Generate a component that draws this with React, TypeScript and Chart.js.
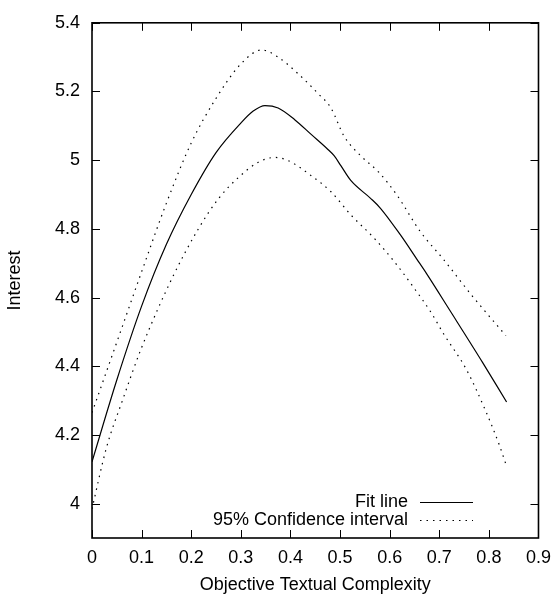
import React, { useEffect, useRef } from "react";
import { Chart, registerables } from "chart.js";
Chart.register(...registerables);

// Fit line
const fitX = [0, 0.05, 0.1, 0.15, 0.2, 0.25, 0.3, 0.325, 0.3487, 0.3752, 0.4086, 0.4418, 0.475, 0.488, 0.5016, 0.5216, 0.5615, 0.5815, 0.6214, 0.6547, 0.6747, 0.7212, 0.7878, 0.8357];
const fitY = [4.122, 4.36, 4.575, 4.755, 4.9, 5.022, 5.108, 5.143, 5.159, 5.152, 5.118, 5.075, 5.032, 5.013, 4.984, 4.941, 4.889, 4.86, 4.783, 4.712, 4.669, 4.563, 4.41, 4.296];

// Upper 95% confidence bound
const upX = [0, 0.05, 0.1, 0.15, 0.2, 0.25, 0.3, 0.342, 0.3752, 0.4152, 0.455, 0.4817, 0.508, 0.5415, 0.578, 0.6148, 0.6613, 0.708, 0.768, 0.8343];
const upY = [4.265, 4.47, 4.675, 4.875, 5.05, 5.18, 5.28, 5.321, 5.3, 5.252, 5.195, 5.152, 5.07, 5.013, 4.965, 4.898, 4.793, 4.712, 4.602, 4.489];

// Lower 95% confidence bound
const loX = [0, 0.029, 0.0625, 0.0991, 0.1623, 0.2156, 0.2555, 0.2954, 0.3353, 0.3686, 0.3952, 0.4418, 0.4817, 0.5216, 0.568, 0.608, 0.648, 0.6846, 0.708, 0.7545, 0.7944, 0.821, 0.8357];
const loY = [3.985, 4.162, 4.305, 4.451, 4.659, 4.803, 4.889, 4.95, 4.994, 5.008, 4.999, 4.955, 4.908, 4.841, 4.774, 4.707, 4.63, 4.554, 4.496, 4.391, 4.267, 4.171, 4.109];

const xTicks = [0, 0.1, 0.2, 0.3, 0.4, 0.5, 0.6, 0.7, 0.8, 0.9];
const yTicks = [4.0, 4.2, 4.4, 4.6, 4.8, 5.0, 5.2, 5.4];

const xTitle = "Objective Textual Complexity";
const yTitle = "Interest";
const fitLabel = "Fit line";
const ciLabel = "95% Confidence interval";

const FONT = "'Liberation Sans', Arial, Helvetica, sans-serif";
const FS = 18;

const zip = (xs: number[], ys: number[]) => xs.map((x, i) => ({ x, y: ys[i] }));
const fmt = (v: number) => String(Number(Number(v).toFixed(1)));

const framePlugin = {
  id: "gnuplotFrame",
  afterDraw(chart: any) {
    const { ctx, chartArea: a, scales } = chart;
    const tl = 8;
    ctx.save();
    ctx.strokeStyle = "#000";
    ctx.lineWidth = 1;
    ctx.beginPath();
    for (const v of yTicks) {
      const py = Math.round(scales.y.getPixelForValue(v)) + 0.5;
      ctx.moveTo(a.left, py); ctx.lineTo(a.left + tl, py);
      ctx.moveTo(a.right, py); ctx.lineTo(a.right - tl, py);
    }
    for (const v of xTicks) {
      const px = Math.round(scales.x.getPixelForValue(v)) + 0.5;
      ctx.moveTo(px, a.bottom); ctx.lineTo(px, a.bottom - tl);
      ctx.moveTo(px, a.top); ctx.lineTo(px, a.top + tl);
    }
    ctx.stroke();
    ctx.lineWidth = 1.6;
    ctx.strokeRect(a.left, a.top, a.right - a.left, a.bottom - a.top);

    // legend (gnuplot style, inside bottom-right)
    const seen: string[] = [];
    const items: any[] = [];
    chart.data.datasets.forEach((ds: any) => {
      if (!seen.includes(ds.label)) { seen.push(ds.label); items.push(ds); }
    });
    ctx.font = `${FS}px ${FONT}`;
    ctx.fillStyle = "#000";
    ctx.textAlign = "right";
    ctx.textBaseline = "middle";
    const textRight = a.left + 316;
    const sx0 = a.left + 328;
    const sx1 = a.left + 381;
    let yy = a.bottom - 36;
    items.forEach((ds) => {
      ctx.fillText(ds.label, textRight, yy);
      ctx.beginPath();
      ctx.lineWidth = ds.borderWidth;
      ctx.setLineDash(ds.borderDash || []);
      ctx.moveTo(sx0, yy + 0.5); ctx.lineTo(sx1, yy + 0.5);
      ctx.stroke();
      ctx.setLineDash([]);
      yy += 18;
    });
    ctx.restore();
  },
};

export default function App() {
  const ref = useRef<HTMLCanvasElement>(null);
  useEffect(() => {
    const canvas = ref.current!;
    const dotted = [1.5, 5];
    const common = { showLine: true, borderColor: "#000", borderWidth: 1.2, pointRadius: 0, cubicInterpolationMode: "monotone", fill: false };
    const chart = new Chart(canvas, {
      type: "scatter",
      data: {
        datasets: [
          { ...common, label: fitLabel, data: zip(fitX, fitY) } as any,
          { ...common, label: ciLabel, data: zip(upX, upY), borderDash: dotted } as any,
          { ...common, label: ciLabel, data: zip(loX, loY), borderDash: dotted } as any,
        ],
      },
      options: {
        animation: false,
        responsive: false,
        layout: { padding: { left: 0, top: 15, right: 17, bottom: 0 } },
        plugins: { legend: { display: false }, tooltip: { enabled: false } },
        scales: {
          x: {
            type: "linear",
            min: 0,
            max: 0.9,
            grid: { display: false, drawTicks: false },
            border: { display: false },
            afterBuildTicks: (s: any) => { s.ticks = xTicks.map((v) => ({ value: v })); },
            afterFit: (s: any) => { s.height = 58; },
            ticks: { color: "#000", padding: 9, maxRotation: 0, autoSkip: false, font: { family: FONT, size: FS }, callback: (v: any) => fmt(v) },
            title: { display: true, text: xTitle, color: "#000", font: { family: FONT, size: FS }, padding: { top: 0, bottom: 0 } },
          },
          y: {
            type: "linear",
            min: 3.9,
            max: 5.4,
            grid: { display: false, drawTicks: false },
            border: { display: false },
            afterBuildTicks: (s: any) => { s.ticks = yTicks.map((v) => ({ value: v })); },
            afterFit: (s: any) => { s.width = 92; },
            ticks: { color: "#000", padding: 12, autoSkip: false, font: { family: FONT, size: FS }, callback: (v: any) => fmt(v) },
            title: { display: true, text: yTitle, color: "#000", font: { family: FONT, size: FS }, padding: { top: 4, bottom: 0 } },
          },
        },
      } as any,
      plugins: [framePlugin],
    });
    return () => chart.destroy();
  }, []);
  return (
    <div style={{ position: "absolute", left: 0, top: 0, width: 560, height: 596, background: "#fff" }}>
      <canvas ref={ref} width={560} height={596} style={{ display: "block", width: 560, height: 596 }} />
    </div>
  );
}
